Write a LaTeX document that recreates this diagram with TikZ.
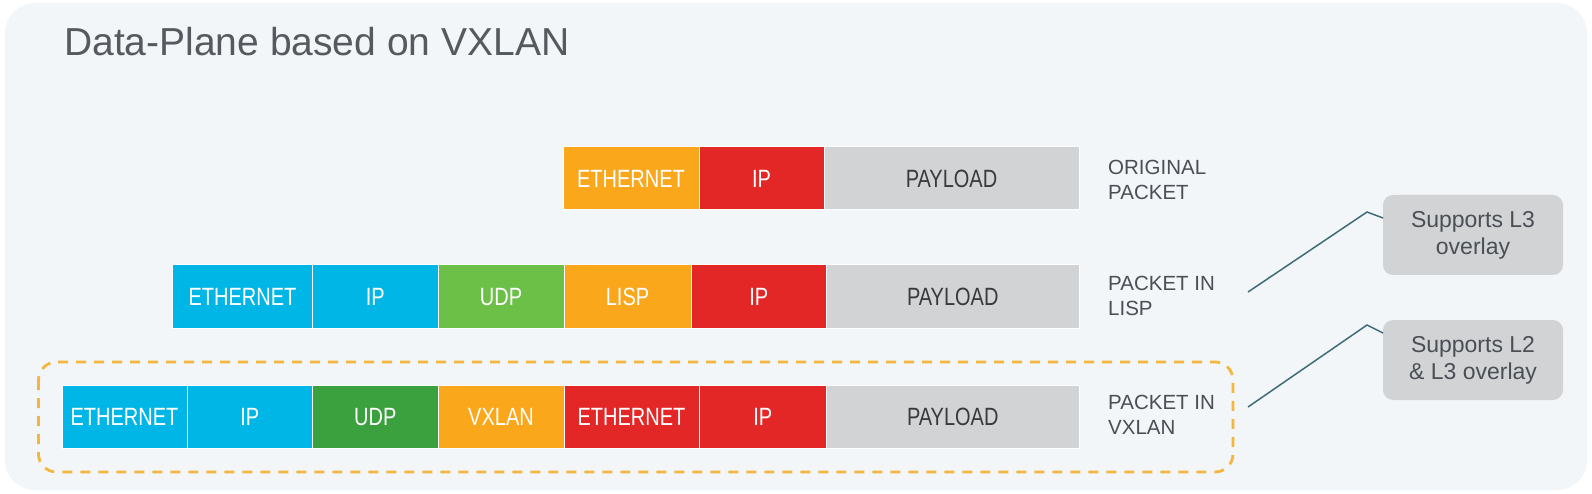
\documentclass[tikz,border=0pt]{standalone}
\usepackage{fontspec}
\setmainfont{Liberation Sans}
\newfontfamily\condf[FakeStretch=0.8]{Liberation Sans}
\newfontfamily\labf{Liberation Sans}
\definecolor{panelc}{HTML}{F3F6F9}
\definecolor{orng}{HTML}{FAA71B}
\definecolor{redc}{HTML}{E32726}
\definecolor{greyc}{HTML}{D1D3D4}
\definecolor{cyanc}{HTML}{00B6E6}
\definecolor{lgreen}{HTML}{6CBF47}
\definecolor{dgreen}{HTML}{3BA03E}
\definecolor{callc}{HTML}{D2D3D5}
\definecolor{dashc}{HTML}{F4B63F}
\definecolor{linec}{HTML}{3E6B78}
\definecolor{titlec}{HTML}{555A5F}
\definecolor{labc}{HTML}{4A4F55}
\definecolor{plc}{HTML}{3A3A3A}
\begin{document}
\begin{tikzpicture}[x=1pt,y=-1pt,
  blk/.style={draw=white, line width=1pt, minimum height=63pt, inner sep=0pt, outer sep=0pt,
    anchor=west, text=white, font=\condf\fontsize{25}{30}\selectfont, text height=18pt, text depth=0pt},
  plblk/.style={blk, fill=greyc, text=plc},
  rowlab/.style={anchor=west, align=left, inner sep=0pt, text=labc, font=\labf\fontsize{20.5}{25.5}\selectfont},
  callout/.style={fill=callc, rounded corners=10pt, minimum width=180pt, minimum height=80pt,
    inner sep=0pt, align=center, text=labc, font=\fontsize{23}{27}\selectfont},
  conn/.style={draw=linec, line width=1.5pt},
  dashbox/.style={draw=dashc, line width=2.8pt, dash pattern=on 10pt off 8pt, rounded corners=18pt}]
\useasboundingbox (0,0) rectangle (1592,494);
\fill[white] (0,0) rectangle (1592,494);
\fill[panelc, rounded corners=30pt] (5,3) rectangle (1587,490);
\node[anchor=base west, inner sep=0pt, text=titlec, font=\fontsize{39}{45}\selectfont] (title) at (64,56) {Data-Plane based on VXLAN};
% Row 1
\node[blk, fill=orng, minimum width=136pt] (r1eth) at (563,178.5) {ETHERNET};
\node[blk, fill=redc, minimum width=125pt] (r1ip) at (699,178.5) {IP};
\node[plblk, minimum width=255pt] (r1pl) at (824,178.5) {PAYLOAD};
\node[rowlab] (r1lab) at (1108,180) {ORIGINAL\\PACKET};
% Row 2
\node[blk, fill=cyanc, minimum width=140pt] (r2eth) at (172.5,296.5) {ETHERNET};
\node[blk, fill=cyanc, minimum width=125.5pt] (r2ip) at (312.5,296.5) {IP};
\node[blk, fill=lgreen, minimum width=126pt] (r2udp) at (438,296.5) {UDP};
\node[blk, fill=orng, minimum width=127pt] (r2lisp) at (564,296.5) {LISP};
\node[blk, fill=redc, minimum width=135.5pt] (r2ip2) at (691,296.5) {IP};
\node[plblk, minimum width=252.5pt] (r2pl) at (826.5,296.5) {PAYLOAD};
\node[rowlab] (r2lab) at (1108,296) {PACKET IN\\LISP};
% Row 3
\node[blk, fill=cyanc, minimum width=125pt] (r3eth) at (62,416.5) {ETHERNET};
\node[blk, fill=cyanc, minimum width=125.5pt] (r3ip) at (187,416.5) {IP};
\node[blk, fill=dgreen, minimum width=125.5pt] (r3udp) at (312.5,416.5) {UDP};
\node[blk, fill=orng, minimum width=126pt] (r3vx) at (438,416.5) {VXLAN};
\node[blk, fill=redc, minimum width=135pt] (r3eth2) at (564,416.5) {ETHERNET};
\node[blk, fill=redc, minimum width=127.5pt] (r3ip2) at (699,416.5) {IP};
\node[plblk, minimum width=252.5pt] (r3pl) at (826.5,416.5) {PAYLOAD};
\node[rowlab] (r3lab) at (1108,415) {PACKET IN\\VXLAN};
% dashed highlight
\draw[dashbox] (38.5,362) rectangle (1233,472);
% callouts
\node[callout] (c1) at (1473,235) {Supports L3\\overlay};
\node[callout] (c2) at (1473,360) {Supports L2\\\& L3 overlay};
\coordinate (c1s) at (1248,292);
\coordinate (c1k) at (1367,212);
\coordinate (c1e) at (1383,218);
\coordinate (c2s) at (1248,407);
\coordinate (c2k) at (1367,325);
\coordinate (c2e) at (1383,333);
\draw[conn] (c1s) -- (c1k) -- (c1e);
\draw[conn] (c2s) -- (c2k) -- (c2e);
\end{tikzpicture}
\end{document}
